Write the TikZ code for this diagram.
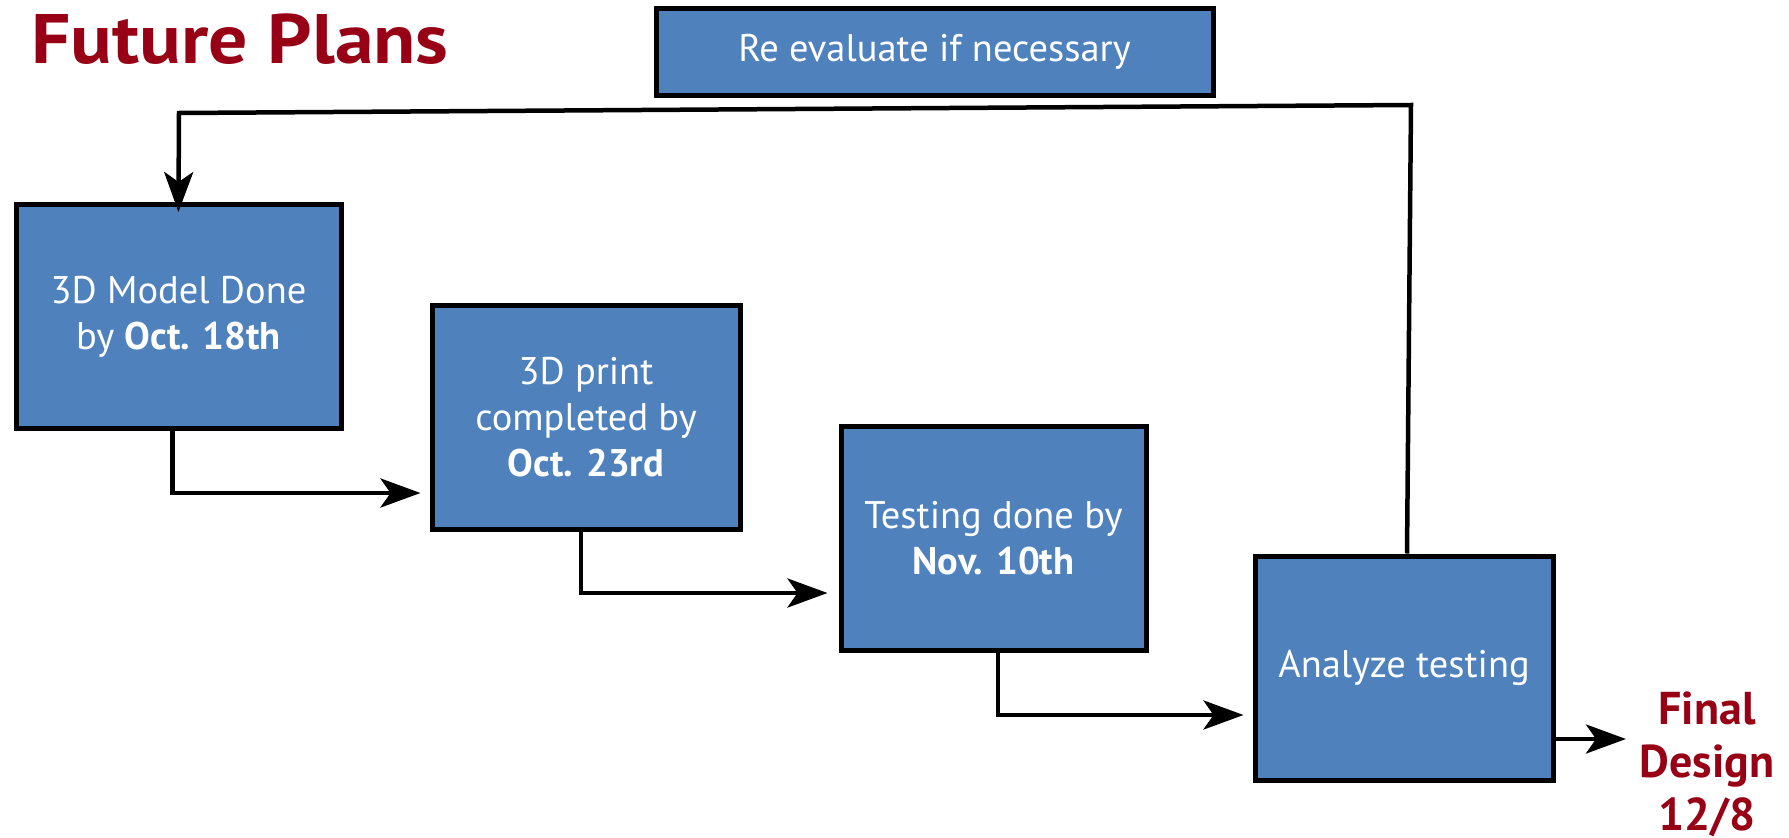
\documentclass[tikz,border=0pt]{standalone}
\usepackage{fontspec}
\setmainfont{PT Sans}
\usetikzlibrary{arrows.meta,calc}
\definecolor{boxblue}{RGB}{79,129,189}
\definecolor{titlered}{RGB}{152,0,22}
\begin{document}
\begin{tikzpicture}[x=1pt,y=-1pt,
  stepbox/.style={draw=black, line width=5pt, fill=boxblue, text=white, align=center,
    font=\fontsize{38.5}{46}\selectfont, inner sep=0pt, minimum height=224pt},
  conn/.style={line width=4.5pt, -{Stealth[length=40pt,width=29pt,inset=10pt]}},
  ]
\useasboundingbox[fill=white] (0,0) rectangle (1789,838);

\node[anchor=base west, font=\bfseries\fontsize{70}{84}\selectfont, text=titlered, inner sep=0pt] (title) at (31,63) {\scalebox{1.11}[1]{Future Plans}};

\node[stepbox, minimum width=557pt, minimum height=87pt] (re) at (934.5,51.5) {Re evaluate if necessary};

\node[stepbox, minimum width=325pt] (b1) at (178.5,316.5) {3D Model Done\\by \textbf{Oct. 18th}};
\node[stepbox, minimum width=308pt] (b2) at (586,417) {3D print\\completed by\\\textbf{Oct. 23rd}};
\node[stepbox, minimum width=305pt] (b3) at (993.5,538) {Testing done by\\\textbf{Nov. 10th}};
\node[stepbox, minimum width=298pt] (b4) at (1404,668) {Analyze testing};

\node[align=center, font=\bfseries\fontsize{46}{53}\selectfont, text=titlered, inner sep=0pt] (final) at (1707,764) {Final\\Design\\12/8};

\coordinate (t1) at (0,493);
\coordinate (t2) at (0,593);
\coordinate (t3) at (0,715);
\coordinate (fin) at (1626,739);
\coordinate (fbR) at (1411,105);
\coordinate (fbL) at (179,113);

\draw[conn, shorten >=9pt] ([xshift=-6pt]b1.south) |- (b2.west |- t1);
\draw[conn, shorten >=11pt] ([xshift=-5pt]b2.south) |- (b3.west |- t2);
\draw[conn, shorten >=9pt] ([xshift=4.5pt]b3.south) |- (b4.west |- t3);
\draw[conn] (b4.east |- fin) -- (fin);
\draw[conn, shorten >=-10pt] ([xshift=3pt]b4.north) -- (fbR) -- (fbL) -- (b1.north);
\end{tikzpicture}
\end{document}
